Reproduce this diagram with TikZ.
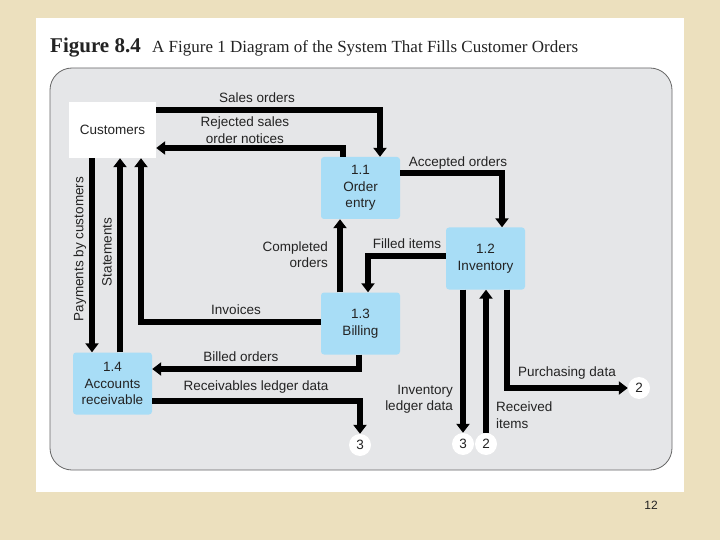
\documentclass[tikz,border=0pt]{standalone}
\usepackage{fontspec}
\setmainfont{Liberation Serif}
\setsansfont{Liberation Sans}
\usetikzlibrary{arrows.meta}
\definecolor{parch}{RGB}{236,224,190}
\definecolor{panel}{RGB}{229,230,232}
\definecolor{procblue}{RGB}{168,221,246}
\definecolor{ink}{RGB}{35,35,35}

\begin{document}
\begin{tikzpicture}[x=1pt, y=-1pt, font=\sffamily\fontsize{13.5}{16.5}\selectfont, text=ink,
  process/.style = {shape=rectangle, rounded corners=3pt, fill=procblue, align=center, minimum width=79pt, minimum height=62pt, inner sep=0pt},
  entity/.style = {shape=rectangle, fill=white, align=center, minimum width=87pt, minimum height=56pt, inner sep=0pt},
  conn/.style = {shape=circle, fill=white, minimum size=22pt, inner sep=0pt},
  flow/.style = {line width=5.5pt, -{Triangle[width=13pt,length=9pt]}},
  lbl/.style = {inner sep=0pt, align=center}]
	\useasboundingbox (0,0) rectangle (720,540);
	\fill[parch] (0,0) rectangle (720,540);
	\fill[white] (36,18) rectangle (684,492);
	\draw[draw=gray!80!black, fill=panel, line width=0.8pt, rounded corners=22pt] (50,68) rectangle (672,470);
	% title
	\node[anchor=base west, inner sep=0pt, font=\rmfamily\bfseries\fontsize{21}{24}\selectfont] (ttlnum) at (50,53) {Figure 8.4};
	\node[anchor=base west, inner sep=0pt, font=\rmfamily\fontsize{17}{20}\selectfont] (ttltxt) at (152,53) {A Figure 1 Diagram of the System That Fills Customer Orders};
	% entities and processes
	\node[entity] (cust) at (112.5,130) {Customers};
	\node[process] (p11) at (360.5,188) {1.1\\Order\\entry};
	\node[process] (p12) at (485.5,258.5) {1.2\\Inventory};
	\node[process] (p13) at (360.5,323.5) {1.3\\Billing};
	\node[process] (p14) at (112.5,383.5) {1.4\\Accounts\\receivable};
	\node[conn] (c3a) at (360,445) {3};
	\node[conn] (c3b) at (463,444) {3};
	\node[conn] (c2a) at (486,444) {2};
	\node[conn] (c2b) at (639,388) {2};
	% flows
	\draw[flow] (cust.east |- 0,110) -| (p11.north -| 380,0);
	\draw[flow] (p11.north -| 343,0) |- (cust.east |- 0,148);
	\draw[flow] (p11.east |- 0,173) -| (p12.north -| 502,0);
	\draw[flow] (p12.west |- 0,256) -| (p13.north -| 368,0);
	\draw[flow] (p13.north -| 340,0) -- (p11.south -| 340,0);
	\draw[flow] (p13.west |- 0,322) -| (cust.south -| 141,0);
	\draw[flow] (p14.north -| 120,0) -- (cust.south -| 120,0);
	\draw[flow] (cust.south -| 92,0) -- (p14.north -| 92,0);
	\draw[flow] (p13.south -| 359,0) |- (p14.east |- 0,369);
	\draw[flow] (p14.east |- 0,401) -| (c3a.north);
	\draw[flow] (p12.south -| c3b.north) -- (c3b.north);
	\draw[flow] (c2a.north) -- (p12.south -| c2a.north);
	\draw[flow] (p12.south -| 507,0) |- (c2b.west);
	% labels
	\node[lbl] (lsales) at (257,98) {Sales orders};
	\node[lbl] (lrej) at (245,130) {Rejected sales\\order notices};
	\node[lbl] (lacc) at (458,163) {Accepted orders};
	\node[lbl] (lfill) at (407,244) {Filled items};
	\node[lbl, align=right, anchor=east] (lcomp) at (328,254.5) {Completed\\orders};
	\node[lbl] (linv) at (236,310) {Invoices};
	\node[lbl, rotate=90] (lstat) at (107,252) {Statements};
	\node[lbl, rotate=90] (lpay) at (80,249) {Payments by customers};
	\node[lbl] (lbill) at (241,357) {Billed orders};
	\node[lbl] (lrecv) at (256,387) {Receivables ledger data};
	\node[lbl, align=right, anchor=east] (lild) at (453,399.5) {Inventory\\ledger data};
	\node[lbl, align=left, anchor=west] (lrec) at (496,415) {Received\\items};
	\node[lbl] (lpur) at (567,373) {Purchasing data};
	% page number
	\node[font=\sffamily\fontsize{12}{14}\selectfont] (pagenum) at (651,505) {12};
\end{tikzpicture}
\end{document}
